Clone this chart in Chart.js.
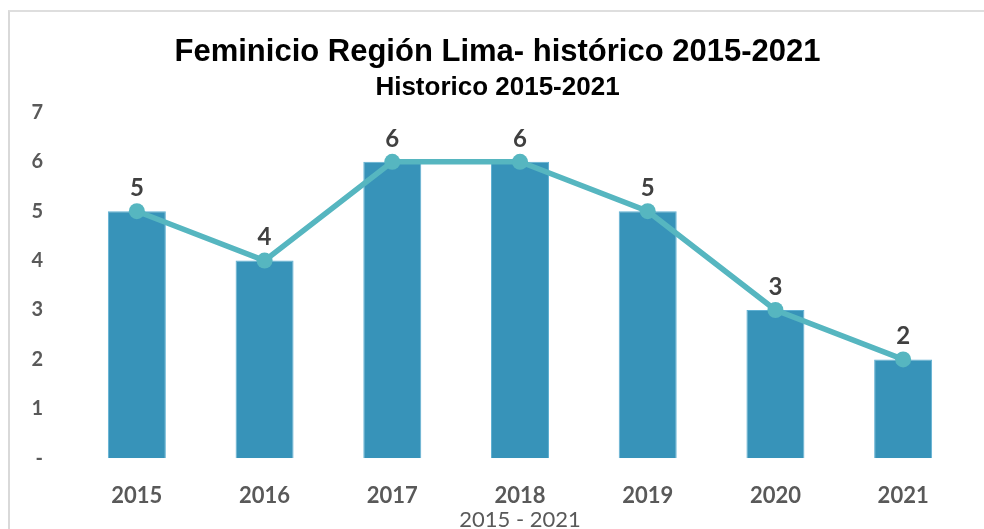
<!DOCTYPE html>
<html>
<head>
<meta charset="utf-8">
<script src="https://cdn.jsdelivr.net/npm/chart.js@4.4.0/dist/chart.umd.min.js"></script>
<style>
    html, body { margin: 0; padding: 0; background: #fff; overflow: hidden; }
    .frame {
        position: absolute; left: 8px; top: 10px; width: 1100px; height: 700px;
        border-left: 2px solid #d9d9d9; border-top: 2px solid #dedede;
    }
    .wrap { position: absolute; left: 0; top: 0; width: 984px; height: 545px; }
</style>
</head>
<body>
<div class="frame"></div>
<div class="wrap"><canvas id="chart" width="984" height="545"></canvas></div>
<script>
const YEARS = ['2015', '2016', '2017', '2018', '2019', '2020', '2021'];
const CASES = [5, 4, 6, 6, 5, 3, 2];
const TREND = [5, 4, 6, 6, 5, 3, 2];
const Y_TICKS = [0, 1, 2, 3, 4, 5, 6, 7];

const BAR_COLOR = '#3793b9';
const LINE_COLOR = '#56b6c0';
const TICK_COLOR = '#595959';

// draws the value over each point of the trend line
const valueLabels = {
    id: 'valueLabels',
    afterDatasetsDraw(chart) {
        const ctx = chart.ctx;
        const meta = chart.getDatasetMeta(1);
        ctx.save();
        ctx.font = 'bold 24px Lato, sans-serif';
        ctx.fillStyle = '#404040';
        ctx.textAlign = 'center';
        ctx.textBaseline = 'middle';
        meta.data.forEach((pt, i) => {
            ctx.fillText(String(TREND[i]), pt.x, pt.y - 23);
        });
        ctx.restore();
    }
};

const ctx = document.getElementById('chart').getContext('2d');
new Chart(ctx, {
    data: {
        labels: YEARS,
        datasets: [
            {
                type: 'bar',
                data: CASES,
                backgroundColor: BAR_COLOR,
                borderColor: '#5fb0d2',
                borderWidth: 1,
                barPercentage: 0.454,
                categoryPercentage: 1,
                order: 2
            },
            {
                type: 'line',
                data: TREND,
                borderColor: LINE_COLOR,
                backgroundColor: LINE_COLOR,
                borderWidth: 5.5,
                pointRadius: 8,
                pointBackgroundColor: LINE_COLOR,
                pointBorderWidth: 0,
                tension: 0,
                order: 1
            }
        ]
    },
    options: {
        responsive: false,
        animation: false,
        layout: { padding: { left: 28, right: 17, top: 0, bottom: 9.5 } },
        plugins: {
            legend: { display: false },
            tooltip: { enabled: false },
            title: {
                display: true,
                text: 'Feminicio Región Lima- histórico 2015-2021',
                color: '#000',
                font: { family: "'Liberation Sans Narrow', 'Arial Narrow', 'Liberation Sans', sans-serif", size: 31, weight: 'bold' },
                padding: { top: 34, bottom: 0 }
            },
            subtitle: {
                display: true,
                text: 'Historico 2015-2021',
                color: '#000',
                font: { family: "'Liberation Sans Narrow', 'Arial Narrow', 'Liberation Sans', sans-serif", size: 26, weight: 'bold' },
                padding: { top: 1, bottom: 9 }
            }
        },
        scales: {
            x: {
                offset: true,
                grid: { display: false, drawTicks: false },
                border: { display: false },
                ticks: {
                    color: TICK_COLOR,
                    padding: 25,
                    font: { family: 'Lato, sans-serif', size: 22, weight: 'bold' }
                },
                title: {
                    display: true,
                    text: '2015 - 2021',
                    color: TICK_COLOR,
                    padding: { top: -28, bottom: 2.5 },
                    font: { family: 'Lato, sans-serif', size: 22 }
                }
            },
            y: {
                min: 0,
                max: 7,
                afterFit(scale) { scale.width = 45; },
                afterBuildTicks(scale) { scale.ticks = Y_TICKS.map(v => ({ value: v })); },
                grid: { display: false, drawTicks: false },
                border: { display: false },
                ticks: {
                    color: TICK_COLOR,
                    padding: 30,
                    font: { family: 'Lato, sans-serif', size: 20, weight: 'bold' },
                    callback: v => v === 0 ? '-' : String(v)
                }
            }
        }
    },
    plugins: [valueLabels]
});
</script>
</body>
</html>
